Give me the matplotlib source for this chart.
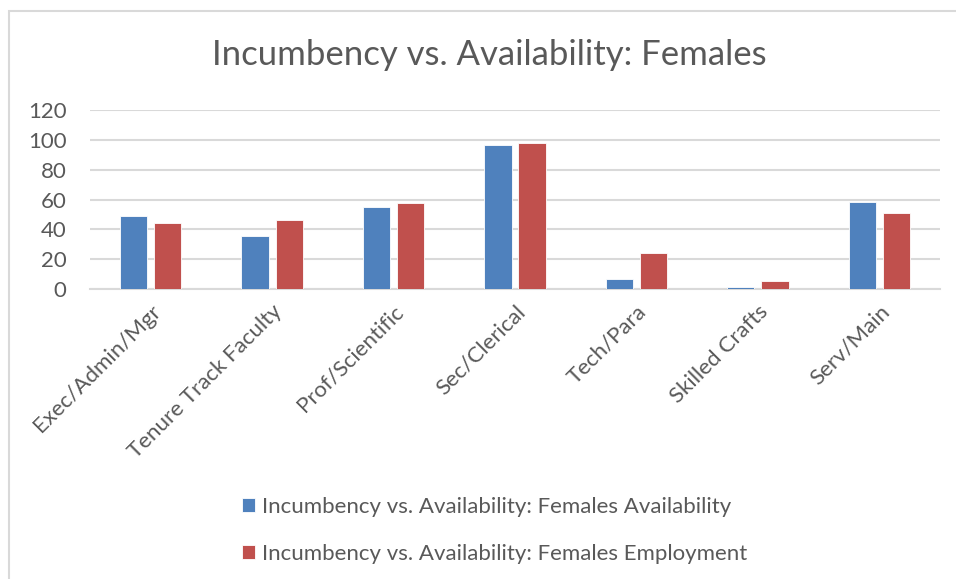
import matplotlib
matplotlib.use("Agg")
import matplotlib.pyplot as plt
import numpy as np
from matplotlib.patches import Rectangle

categories = ["Exec/Admin/Mgr", "Tenure Track Faculty", "Prof/Scientific",
              "Sec/Clerical", "Tech/Para", "Skilled Crafts", "Serv/Main"]
availability = [48.7, 35.3, 54.8, 96.5, 6.7, 1.1, 58.1]
employment = [44.0, 46.5, 57.9, 97.6, 23.9, 5.1, 50.9]
yticks = [0, 20, 40, 60, 80, 100, 120]

title = "Incumbency vs. Availability: Females"
series_names = ["Incumbency vs. Availability: Females Availability",
                "Incumbency vs. Availability: Females Employment"]

blue = "#4f81bd"
red = "#c0504d"
text_color = "#595959"
grid_color = "#d9d9d9"

plt.rcParams["font.family"] = ["Lato", "DejaVu Sans"]

W, H = 956, 579
fig = plt.figure(figsize=(W / 100, H / 100), dpi=100)

# chart-area frame (left and top edges visible)
fig.patches.append(Rectangle((9 / W, -0.1), 1.2, (H - 11) / H + 0.1,
                             transform=fig.transFigure, fill=False,
                             edgecolor="#d9d9d9", linewidth=1.5))

left, right = 90 / W, 940 / W
bottom, top = 1 - 289 / H, 1 - 110 / H
ax = fig.add_axes([left, bottom, right - left, top - bottom])

x = np.arange(len(categories))
bw = 0.225
gap = 0.057
ax.bar(x - (bw + gap) / 2, availability, bw, color=blue, edgecolor="white",
       linewidth=0.6, label=series_names[0], zorder=3)
ax.bar(x + (bw + gap) / 2, employment, bw, color=red, edgecolor="white",
       linewidth=0.6, label=series_names[1], zorder=3)

ax.set_xlim(-0.5, len(categories) - 0.5)
ax.set_ylim(0, 120)
ax.set_yticks(yticks)
ax.yaxis.grid(True, color=grid_color, linewidth=1.5, zorder=0)
ax.set_axisbelow(True)
for s in ["top", "right", "left"]:
    ax.spines[s].set_visible(False)
ax.spines["bottom"].set_color(grid_color)
ax.spines["bottom"].set_linewidth(1.5)
ax.tick_params(axis="both", length=0, colors=text_color, labelsize=16)
ax.tick_params(axis="y", pad=17)
ax.set_xticks(x)
ax.set_xticklabels(categories, rotation=45, ha="right", va="top",
                   rotation_mode="anchor")
ax.tick_params(axis="x", pad=9)

fig.text(489 / W, 1 - 55 / H, title, ha="center", va="center",
         fontsize=25, color=text_color)

handles, labels = ax.get_legend_handles_labels()
leg = fig.legend(handles, labels, loc="upper left",
                 bbox_to_anchor=(222 / W, 1 - 477 / H), frameon=False,
                 fontsize=16, labelcolor=text_color, handlelength=0.6,
                 handleheight=0.6, handletextpad=0.3, labelspacing=1.2)

fig.savefig("out.png", dpi=100, facecolor="white")
